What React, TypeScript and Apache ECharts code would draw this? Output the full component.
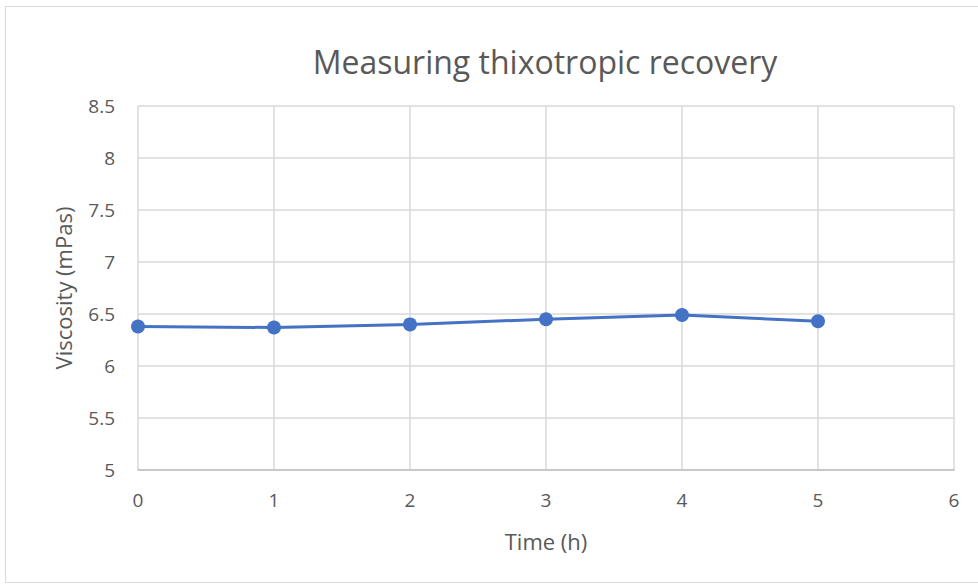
import React, { useEffect, useRef } from "react";
import * as echarts from "echarts";

const timeHours = [0, 1, 2, 3, 4, 5];
const viscosity = [6.38, 6.37, 6.4, 6.45, 6.49, 6.43];
const titleText = "Measuring thixotropic recovery";
const xAxisName = "Time (h)";
const yAxisName = "Viscosity (mPas)";

export default function App() {
  const ref = useRef<HTMLDivElement>(null);
  useEffect(() => {
    if (!ref.current) return;
    const chart = echarts.init(ref.current, null, { renderer: "svg" });
    const font = "'Open Sans', 'Noto Sans', sans-serif";
    chart.setOption({
      animation: false,
      backgroundColor: "#ffffff",
      title: {
        text: titleText,
        left: 540,
        top: 40,
        textAlign: "center",
        textStyle: { fontFamily: font, fontSize: 32, fontWeight: "normal", color: "#595959" },
      },
      graphic: [
        {
          type: "rect",
          shape: { x: 5.5, y: 6.5, width: 990, height: 576 },
          style: { fill: "none", stroke: "#d9d9d9", lineWidth: 1 },
          silent: true,
        },
      ],
      grid: { left: 138, top: 106, width: 816, height: 364, containLabel: false },
      xAxis: {
        type: "value",
        min: 0,
        max: 6,
        interval: 1,
        name: xAxisName,
        nameLocation: "middle",
        nameGap: 60,
        nameTextStyle: { fontFamily: font, fontSize: 22, color: "#595959" },
        axisLine: { show: true, lineStyle: { color: "#bfbfbf", width: 1.5 } },
        axisTick: { show: false },
        axisLabel: { fontFamily: font, fontSize: 19, color: "#595959", margin: 20 },
        splitLine: { show: true, lineStyle: { color: "#d9d9d9", width: 1.5 } },
      },
      yAxis: {
        type: "value",
        min: 5,
        max: 8.5,
        interval: 0.5,
        name: yAxisName,
        nameLocation: "middle",
        nameGap: 64,
        nameRotate: 90,
        nameTextStyle: { fontFamily: font, fontSize: 22, color: "#595959" },
        axisLine: { show: false },
        axisTick: { show: false },
        axisLabel: { fontFamily: font, fontSize: 19, color: "#595959", margin: 23 },
        splitLine: { show: true, lineStyle: { color: "#d9d9d9", width: 1.5 } },
      },
      series: [
        {
          type: "line",
          data: timeHours.map((t, i) => [t, viscosity[i]]),
          symbol: "circle",
          symbolSize: 14,
          lineStyle: { color: "#4472C4", width: 3 },
          itemStyle: { color: "#4472C4" },
        },
      ],
    });
    return () => chart.dispose();
  }, []);
  return (
    <div
      ref={ref}
      style={{ position: "absolute", left: 0, top: 0, width: 978, height: 587 }}
    />
  );
}
